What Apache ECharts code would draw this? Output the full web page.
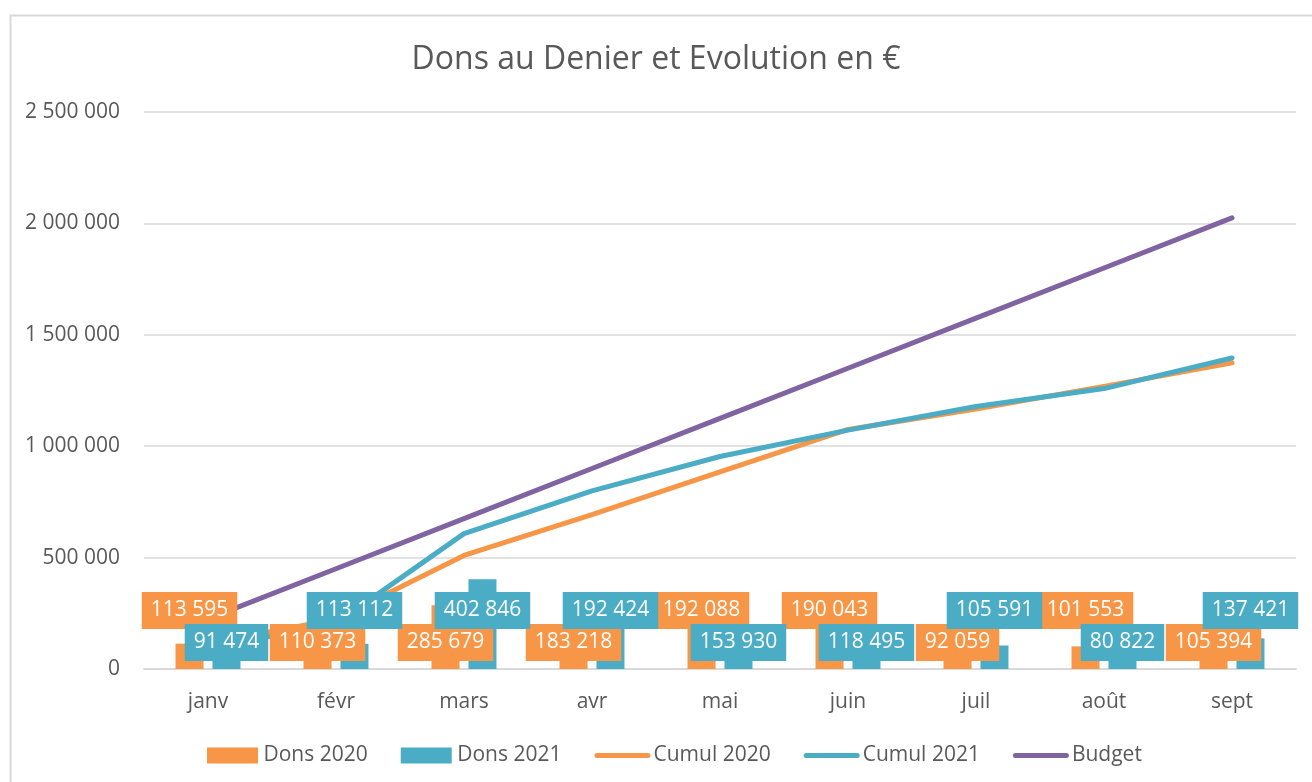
<!DOCTYPE html>
<html>
<head>
<meta charset="utf-8">
<script src="https://cdn.jsdelivr.net/npm/echarts@6/dist/echarts.min.js"></script>
<style>
html,body{margin:0;padding:0;background:#fff;}
#chart{width:1312px;height:782px;}
</style>
</head>
<body>
<div id="chart"></div>
<script>
const months = ['janv','févr','mars','avr','mai','juin','juil','août','sept'];
const dons2020 = [113595,110373,285679,183218,192088,190043,92059,101553,105394];
const dons2021 = [91474,113112,402846,192424,153930,118495,105591,80822,137421];
const cumul2020 = [113595,223968,509647,692865,884953,1074996,1167055,1268608,1374002];
const cumul2021 = [91474,204586,607432,799856,953786,1072281,1177872,1258694,1396115];
const budget = [225000,450000,675000,900000,1125000,1350000,1575000,1800000,2025000];
const yTicks = [0,500000,1000000,1500000,2000000,2500000];

const fmt = v => String(v).replace(/\B(?=(\d{3})+(?!\d))/g, ' ');
const FONT = 'Open Sans';
const TXT = '#595959';
const C20 = '#F79646', C21 = '#4BACC6', CB = '#8064A2';

function barData(vals, other) {
  return vals.map((v, i) => ({
    value: v,
    label: { distance: v > other[i] ? 40 : 8 }
  }));
}
const barLabel = color => ({
  show: true,
  position: 'insideBottom',
  formatter: p => fmt(p.value),
  color: '#fff',
  fontFamily: FONT,
  fontSize: 21,
  lineHeight: 21,
  backgroundColor: color,
  padding: [8, 9, 8, 9]
});

const RECT_ICON = 'path://M0,0 L51,0 L51,16 L0,16 Z';
const LINE_ICON = 'path://M2.5,0 L53.5,0 A2.5,2.5 0 0 1 53.5,5 L2.5,5 A2.5,2.5 0 0 1 2.5,0 Z';

const chart = echarts.init(document.getElementById('chart'), null, {renderer: 'canvas'});
chart.setOption({
  animation: false,
  backgroundColor: '#fff',
  textStyle: { fontFamily: FONT },
  graphic: [{
    type: 'rect', left: 8, top: 13, z: -10,
    shape: { width: 1330, height: 800 },
    style: { fill: 'none', stroke: '#d9d9d9', lineWidth: 2 }
  }],
  title: {
    text: 'Dons au Denier et Evolution en €',
    left: 'center', top: 39,
    textStyle: { fontFamily: FONT, fontSize: 32, fontWeight: 'normal', color: TXT }
  },
  legend: {
    left: 202, top: 740,
    itemGap: 33, itemWidth: 56, itemHeight: 16,
    symbolKeepAspect: true,
    textStyle: { fontFamily: FONT, fontSize: 21, color: TXT, padding: [0, 0, 0, -2] },
    data: [
      { name: 'Dons 2020', icon: RECT_ICON },
      { name: 'Dons 2021', icon: RECT_ICON },
      { name: 'Cumul 2020', icon: LINE_ICON },
      { name: 'Cumul 2021', icon: LINE_ICON },
      { name: 'Budget', icon: LINE_ICON }
    ]
  },
  grid: { left: 144, right: 16, top: 112, bottom: 113 },
  xAxis: {
    type: 'category', data: months,
    axisTick: { show: false },
    axisLine: { lineStyle: { color: '#d9d9d9', width: 2 } },
    axisLabel: { color: TXT, fontFamily: FONT, fontSize: 21, margin: 23 }
  },
  yAxis: {
    type: 'value', min: yTicks[0], max: yTicks[yTicks.length - 1], interval: 500000,
    axisLine: { show: false }, axisTick: { show: false },
    splitLine: { lineStyle: { color: '#d9d9d9', width: 1.5 } },
    axisLabel: { color: TXT, fontFamily: FONT, fontSize: 21, margin: 24, formatter: v => fmt(v) }
  },
  series: [
    { name: 'Dons 2020', type: 'bar', z: 3, barWidth: 28, barGap: '32%',
      itemStyle: { color: C20 }, label: barLabel(C20), data: barData(dons2020, dons2021) },
    { name: 'Dons 2021', type: 'bar', z: 3, barWidth: 28, barGap: '32%',
      itemStyle: { color: C21 }, label: barLabel(C21), data: barData(dons2021, dons2020) },
    { name: 'Cumul 2020', type: 'line', z: 2, symbol: 'none', showSymbol: false,
      lineStyle: { color: C20, width: 5, cap: 'round', join: 'round' }, itemStyle: { color: C20 }, data: cumul2020 },
    { name: 'Cumul 2021', type: 'line', z: 2, symbol: 'none', showSymbol: false,
      lineStyle: { color: C21, width: 5, cap: 'round', join: 'round' }, itemStyle: { color: C21 }, data: cumul2021 },
    { name: 'Budget', type: 'line', z: 2, symbol: 'none', showSymbol: false,
      lineStyle: { color: CB, width: 5, cap: 'round', join: 'round' }, itemStyle: { color: CB }, data: budget }
  ]
});
</script>
</body>
</html>
